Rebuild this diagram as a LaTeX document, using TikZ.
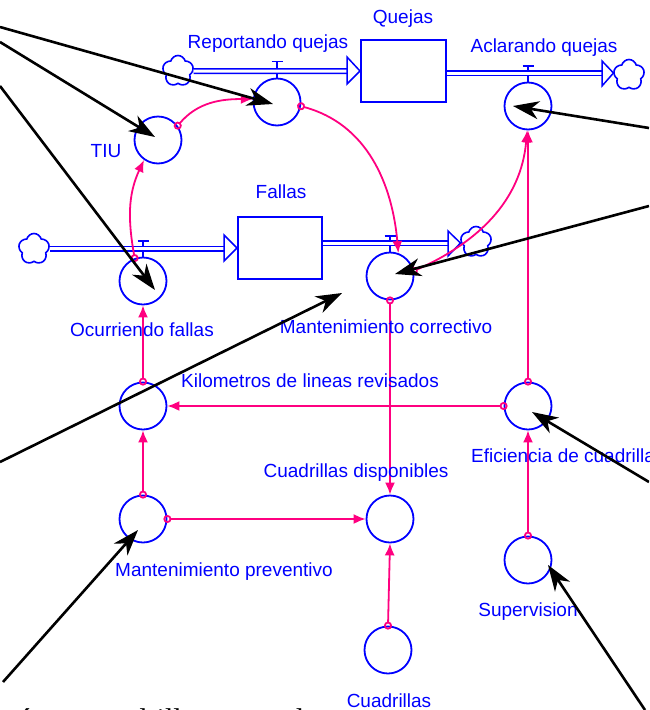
\documentclass[tikz,border=0pt]{standalone}
\usepackage{fontspec}
\setmainfont{Liberation Serif}
\newfontfamily\vsans{Liberation Sans}
\usetikzlibrary{arrows.meta,shapes.symbols,calc}
\definecolor{vblue}{RGB}{0,0,255}
\definecolor{vpink}{RGB}{255,0,128}
\begin{document}
\begin{tikzpicture}[x=1pt,y=1pt,
    aux/.style={circle,draw=vblue,line width=1.8pt,minimum size=47pt,inner sep=0pt},
    stock/.style={rectangle,draw=vblue,line width=2pt,inner sep=0pt},
    nube/.style={cloud,cloud puffs=5,aspect=1,draw=vblue,line width=1.6pt,
      minimum width=31pt,minimum height=31pt,inner sep=0pt},
    tubo/.style={draw=vblue,line width=1.5pt,double=white,double distance=3pt},
    punta/.style={draw=vblue,line width=1.5pt,fill=white},
    valvula/.style={draw=vblue,line width=1.5pt},
    lbl/.style={text=vblue,font=\vsans\fontsize{19}{22}\selectfont,anchor=base,inner sep=0pt},
    link/.style={vpink,line width=1.8pt,shorten <=-4pt,
      {Circle[open,length=8pt,width=8pt]}-{Latex[length=12pt,width=10pt]}},
    flecha/.style={black,line width=2.6pt,-{Stealth[length=26pt,width=18pt,inset=8pt]}}]
    \path[use as bounding box,clip] (0,0) rectangle (649,-710);

    % niveles y nubes
    \node[stock,minimum width=85pt,minimum height=62pt] (quejas) at (403.5,-71) {};
    \node[stock,minimum width=84pt,minimum height=62pt] (fallas) at (280,-248) {};
    \node[nube] (nube1) at (178,-71) {};
    \node[nube] (nube2) at (34,-249) {};
    \node[nube] (nube3) at (629,-75) {};
    \node[nube] (nube4) at (476,-242) {};

    % variables
    \node[aux] (reportando) at (277,-102) {};
    \node[aux] (aclarando) at (528,-106) {};
    \node[aux] (tiu) at (158,-140) {};
    \node[aux] (ocurriendo) at (143,-281) {};
    \node[aux] (correctivo) at (390,-276) {};
    \node[aux] (kilometros) at (143,-406) {};
    \node[aux] (eficiencia) at (528,-406) {};
    \node[aux] (preventivo) at (143,-519) {};
    \node[aux] (disponibles) at (390,-519) {};
    \node[aux] (supervision) at (528,-560) {};
    \node[aux] (cuadrillas) at (388,-650) {};

    % valvulas
    \draw[valvula] (reportando.north) -- ++(0,16) coordinate (v1) (v1) ++(-5.5,0) -- ++(11,0);
    \draw[valvula] (aclarando.north) -- ++(0,15.5) coordinate (v2) (v2) ++(-5.5,0) -- ++(11,0);
    \draw[valvula] (ocurriendo.north) -- ++(0,15.5) coordinate (v3) (v3) ++(-5.5,0) -- ++(11,0);
    \draw[valvula] (correctivo.north) -- ++(0,15.5) coordinate (v4) (v4) ++(-5.5,0) -- ++(11,0);

    % flujos
    \draw[tubo] (nube1.east) -- (347,-71);
    \draw[punta] (347,-57) -- (quejas.west) -- (347,-84) -- cycle;
    \draw[tubo] (quejas.east |- 0,-73) -- (602,-73);
    \draw[punta] (602,-61) -- (nube3.west |- 0,-73) -- (602,-86) -- cycle;
    \draw[tubo] (nube2.east |- 0,-248.5) -- (224,-248.5);
    \draw[punta] (224,-235) -- (fallas.west) -- (224,-261) -- cycle;
    \draw[tubo] (fallas.east |- 0,-243) -- (448,-243);
    \draw[punta] (448,-231) -- (nube4.west |- 0,-243) -- (448,-256) -- cycle;

    % conectores
    \draw[link] (tiu.36) to[out=50,in=180] (reportando.173);
    \draw[link] (reportando.-10) to[out=-15,in=95] (correctivo.70);
    \draw[link] (ocurriendo.110) to[out=100,in=245] (tiu.235);
    \draw[link] (correctivo.12) to[out=24,in=265] (aclarando.268);
    \draw[link] (eficiencia.north) -- (aclarando.south);
    \draw[link] (correctivo.south) -- (disponibles.north);
    \draw[link] (eficiencia.west) -- (kilometros.east);
    \draw[link] (kilometros.north) -- (ocurriendo.south);
    \draw[link] (preventivo.north) -- (kilometros.south);
    \draw[link] (preventivo.east) -- (disponibles.west);
    \draw[link] (supervision.north) -- (eficiencia.south);
    \draw[link] (cuadrillas.north) -- (disponibles.south);

    % nombres
    \node[lbl] (lquejas) at (403,-23) {Quejas};
    \node[lbl] (lfallas) at (281,-198) {Fallas};
    \node[lbl] (lreportando) at (268,-48) {Reportando quejas};
    \node[lbl] (laclarando) at (544,-52) {Aclarando quejas};
    \node[lbl] (ltiu) at (106,-157) {TIU};
    \node[lbl] (locurriendo) at (142,-336) {Ocurriendo fallas};
    \node[lbl] (lcorrectivo) at (386,-333) {Mantenimiento correctivo};
    \node[lbl] (lkilometros) at (310,-387) {Kilometros de lineas revisados};
    \node[lbl,anchor=base west] (leficiencia) at (471,-462) {Eficiencia de cuadrillas};
    \node[lbl] (ldisponibles) at (356,-477) {Cuadrillas disponibles};
    \node[lbl] (lpreventivo) at (224,-576) {Mantenimiento preventivo};
    \node[lbl] (lsupervision) at (528,-616) {Supervision};
    \node[lbl] (lcuadrillas) at (389,-707) {Cuadrillas};

    \node[font=\fontsize{30}{36}\selectfont,anchor=base west,inner sep=0pt] (texto)
      at (-16.7,-729) {será con cuadrillas como de};

    % flechas negras
    \coordinate (p1) at (0,-27);
    \coordinate (p2) at (0,-42);
    \coordinate (p3) at (0,-86);
    \coordinate (p4) at (0,-462);
    \coordinate (q4) at (342,-293);
    \coordinate (p5) at (649,-128);
    \coordinate (p6) at (649,-206);
    \coordinate (p7) at (649,-482);
    \coordinate (p8) at (645,-710);
    \coordinate (p9) at (3,-682);
    \draw[flecha] (p1) -- ($(reportando.center)+(-4,-2)$);
    \draw[flecha] (p2) -- ($(tiu.center)+(-3,3)$);
    \draw[flecha] (p3) -- ($(ocurriendo.center)+(12,-9)$);
    \draw[flecha] (p4) -- (q4);
    \draw[flecha] (p5) -- ($(aclarando.center)+(-15,0)$);
    \draw[flecha] (p6) -- ($(correctivo.center)+(5,2)$);
    \draw[flecha] (p7) -- ($(eficiencia.center)+(4,-6)$);
    \draw[flecha] (p8) -- ($(supervision.center)+(20,-5)$);
    \draw[flecha] (p9) -- ($(preventivo.center)+(-5,-11)$);
  \end{tikzpicture}
\end{document}
